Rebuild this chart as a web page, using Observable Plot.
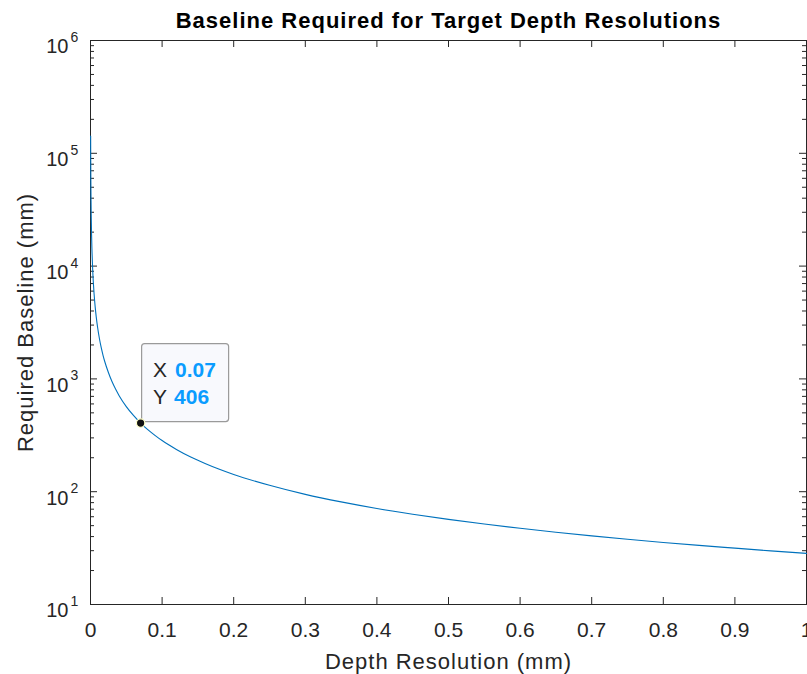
<!DOCTYPE html>
<html><head><meta charset="utf-8">
<script src="https://cdn.jsdelivr.net/npm/d3@7"></script>
<script src="https://cdn.jsdelivr.net/npm/@observablehq/plot@0.6"></script>
<style>
html,body{margin:0;padding:0;background:#fff;} svg{display:block}
.spaced text{letter-spacing:1px;}
</style>
</head><body><div id="chart"></div>
<script>
// Data
const depthResolution = [0.0002, 0.0003, 0.0005, 0.00075, 0.001, 0.0015, 0.002, 0.003, 0.004, 0.005, 0.0065, 0.008, 0.01, 0.0125, 0.015, 0.0175, 0.02, 0.025, 0.03, 0.035, 0.04, 0.05, 0.06, 0.07, 0.08, 0.09, 0.1, 0.12, 0.14, 0.16, 0.18, 0.2, 0.25, 0.3, 0.35, 0.4, 0.45, 0.5, 0.55, 0.6, 0.65, 0.7, 0.75, 0.8, 0.85, 0.9, 0.95, 1.0];
const requiredBaseline = [142000, 94700, 56800, 37900, 28400, 18900, 14200, 9470, 7100, 5680, 4370, 3550, 2840, 2270, 1890, 1620, 1420, 1140, 947, 812, 710, 568, 474, 406, 355, 316, 284, 237, 203, 178, 158, 142, 114, 94.7, 81.2, 71.0, 63.2, 56.8, 51.7, 47.4, 43.7, 40.6, 37.9, 35.5, 33.4, 31.6, 29.9, 28.4];

const xTickValues = [0, 0.1, 0.2, 0.3, 0.4, 0.5, 0.6, 0.7, 0.8, 0.9, 1];
const xTickLabels = ["0", "0.1", "0.2", "0.3", "0.4", "0.5", "0.6", "0.7", "0.8", "0.9", "1"];
const yTickValues = [10, 100, 1000, 10000, 100000, 1000000];
const yTickBase = ["10", "10", "10", "10", "10", "10"];
const yTickExponents = ["1", "2", "3", "4", "5", "6"];
const yMinorMultipliers = [2, 3, 4, 5, 6, 7, 8, 9];

const tipX = [0.07];
const tipY = [406];
const tipXLabel = "0.07";
const tipYLabel = "406";

const titleText = "Baseline Required for Target Depth Resolutions";
const xLabelText = "Depth Resolution (mm)";
const yLabelText = "Required Baseline (mm)";

const W = 807, H = 674, mL = 90, mR = 1, mT = 40, mB = 70;
const iw = W - mL - mR, ih = H - mT - mB;
const axisColor = "#262626";
const lineColor = "#0072BD";
const FONT = "Liberation Sans, Arial, Helvetica, sans-serif";

const series = depthResolution.map((x, i) => ({x, y: requiredBaseline[i]}));
const yMinor = [];
for (const d of yTickValues.slice(0, -1)) for (const m of yMinorMultipliers) yMinor.push(d * m);
const tip = tipX.map((x, i) => ({x, y: tipY[i]}));

const plot = Plot.plot({
  width: W, height: H,
  marginLeft: mL, marginRight: mR, marginTop: mT, marginBottom: mB,
  style: {fontFamily: FONT, background: "#fff", overflow: "visible"},
  x: {domain: [0, 1], axis: null},
  y: {type: "log", domain: [10, 1e6], axis: null},
  marks: [
    Plot.frame({stroke: axisColor, strokeWidth: 1}),
    // ticks (inward)
    Plot.ruleX(xTickValues, {x: d => d, stroke: axisColor, strokeWidth: 1, insetTop: ih - 7}),
    Plot.ruleX(xTickValues, {x: d => d, stroke: axisColor, strokeWidth: 1, insetBottom: ih - 7}),
    Plot.ruleY(yTickValues, {y: d => d, stroke: axisColor, strokeWidth: 1, insetRight: iw - 7}),
    Plot.ruleY(yTickValues, {y: d => d, stroke: axisColor, strokeWidth: 1, insetLeft: iw - 7}),
    Plot.ruleY(yMinor, {y: d => d, stroke: axisColor, strokeWidth: 1, insetRight: iw - 4}),
    Plot.ruleY(yMinor, {y: d => d, stroke: axisColor, strokeWidth: 1, insetLeft: iw - 4}),
    // curve (drawn over the axis box, as in the reference)
    Plot.line(series, {x: "x", y: "y", stroke: lineColor, strokeWidth: 1.1, curve: "monotone-x"}),
    // x tick labels
    Plot.text(xTickValues, {x: d => d, text: (d, i) => xTickLabels[i], frameAnchor: "bottom", lineAnchor: "middle", dy: 26, fontSize: 21, fill: axisColor}),
    // y tick labels 10^n
    Plot.text(yTickValues, {y: d => d, text: (d, i) => yTickBase[i], frameAnchor: "left", textAnchor: "end", lineAnchor: "middle", dx: -22, dy: 6.5, fontSize: 20, fill: axisColor}),
    Plot.text(yTickValues, {y: d => d, text: (d, i) => yTickExponents[i], frameAnchor: "left", textAnchor: "start", lineAnchor: "middle", dx: -20, dy: -3, fontSize: 14, fill: axisColor}),
    // axis labels and title
    Plot.text([xLabelText], {text: d => d, frameAnchor: "bottom", lineAnchor: "middle", dy: 57, fontSize: 22, fill: axisColor, className: "spaced"}),
    Plot.text([yLabelText], {text: d => d, frameAnchor: "left", textAnchor: "middle", lineAnchor: "middle", dx: -65, rotate: -90, fontSize: 22, fill: axisColor, className: "spaced"}),
    Plot.text([titleText], {text: d => d, frameAnchor: "top", lineAnchor: "middle", dy: -20, fontSize: 22, fontWeight: "bold", fill: "#000", className: "spaced"}),
    // data tip marker
    Plot.dot(tip, {x: "x", y: "y", r: 4.2, fill: "#111", stroke: "#ffffc8", strokeWidth: 1.2})
  ]
});

// datatip box anchored to the marker via the plot's scales
const sx = plot.scale("x"), sy = plot.scale("y");
const px = sx.apply(tipX[0]), py = sy.apply(tipY[0]);
const svg = d3.select(plot);
svg.selectAll(".spaced text").attr("letter-spacing", "1px");
const g = svg.append("g").attr("font-family", FONT).attr("text-anchor", "start");
g.append("rect")
  .attr("x", px + 1.5).attr("y", py - 79).attr("width", 87).attr("height", 78)
  .attr("rx", 3).attr("fill", "#f8f9fd").attr("stroke", "#9a9a9a").attr("stroke-width", 1.2);
const t1 = g.append("text").attr("x", px + 13).attr("y", py - 46).attr("font-size", 21);
t1.append("tspan").attr("fill", axisColor).text("X");
t1.append("tspan").attr("x", px + 35).attr("fill", "#0a9cff").attr("font-weight", "bold").text(tipXLabel);
const t2 = g.append("text").attr("x", px + 13).attr("y", py - 19).attr("font-size", 21);
t2.append("tspan").attr("fill", axisColor).text("Y");
t2.append("tspan").attr("x", px + 34).attr("fill", "#0a9cff").attr("font-weight", "bold").text(tipYLabel);
// keep the marker on top of the box
svg.select('g[aria-label="dot"]').raise();

document.getElementById("chart").appendChild(plot);
</script>
</body></html>
